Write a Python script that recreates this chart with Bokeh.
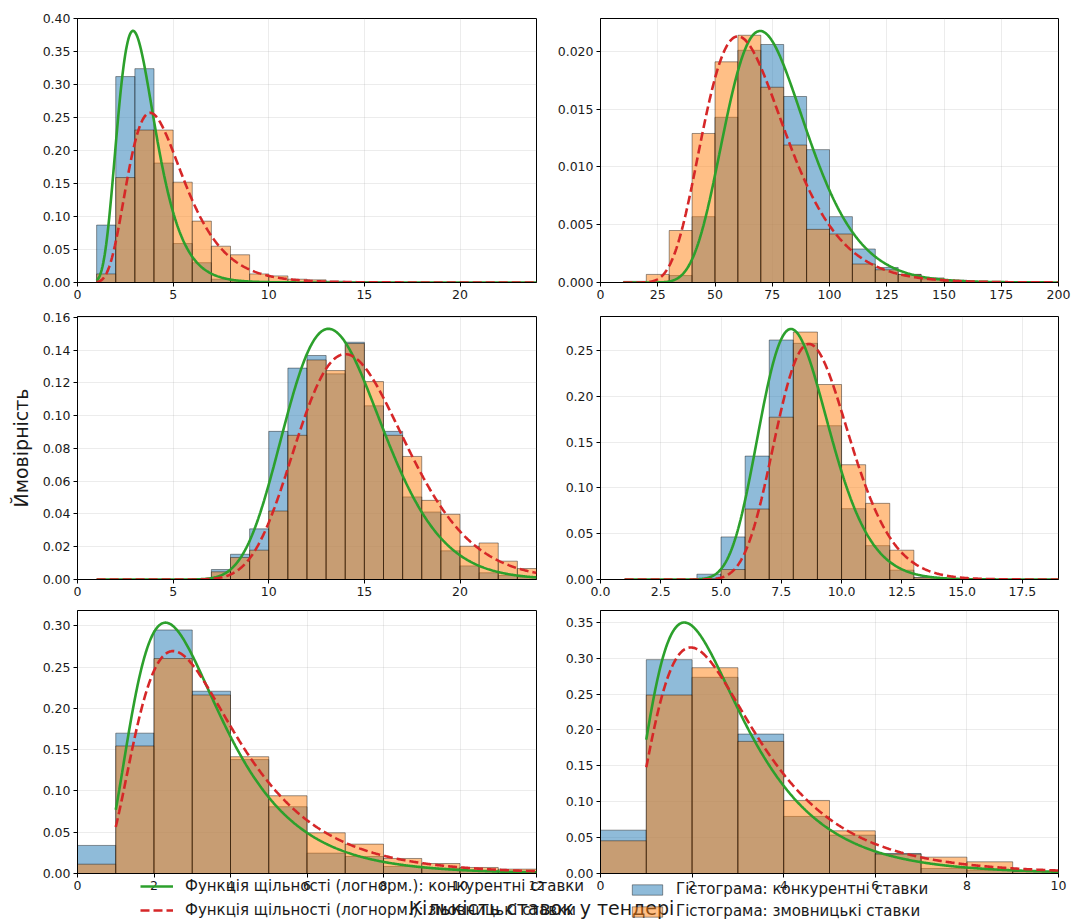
import numpy as np
from bokeh.plotting import figure
from bokeh.models import (Range1d, FixedTicker, PrintfTickFormatter, Legend,
                          LegendItem, Label, ColumnDataSource)
from bokeh.layouts import column, row
from bokeh.embed import file_html
from bokeh.resources import INLINE

# ---------------- data ----------------
LABEL_PDF_COMP = "Функція щільності (логнорм.): конкурентні ставки"
LABEL_PDF_COLL = "Функція щільності (логнорм.): змовницькі ставки"
LABEL_HIST_COMP = "Гістограма: конкурентні ставки"
LABEL_HIST_COLL = "Гістограма: змовницькі ставки"
X_LABEL = "Кількість ставок у тендері"
Y_LABEL = "Ймовірність"

# panel 1 (top-left)
P1_BIN_LEFT = [1, 2, 3, 4, 5, 6, 7, 8, 9, 10, 11, 12, 13, 14, 15]
P1_BIN_WIDTH = 1
P1_COMP = [0.087, 0.312, 0.324, 0.181, 0.059, 0.030, 0.005, 0.002, 0, 0, 0, 0, 0, 0, 0]
P1_COLL = [0.013, 0.159, 0.231, 0.231, 0.152, 0.093, 0.055, 0.042, 0.013, 0.010, 0.005, 0.004, 0.002, 0.001, 0.001]
P1_FIT_COMP = (0.34, 0.0, 3.26)     # shape, loc, scale
P1_FIT_COLL = (0.38, 0.0, 4.39)
P1_CURVE_SPAN = (1, 24)
P1_XTICKS = [0, 5, 10, 15, 20]
P1_YTICKS = [0, 0.05, 0.10, 0.15, 0.20, 0.25, 0.30, 0.35, 0.40]

# panel 2 (top-right)
P2_BIN_LEFT = [10, 20, 30, 40, 50, 60, 70, 80, 90, 100, 110, 120, 130, 140, 150]
P2_BIN_WIDTH = 10
P2_COMP = [0, 0, 0.0006, 0.0057, 0.0143, 0.0201, 0.0206, 0.0161, 0.0115, 0.0057, 0.0029, 0.0013, 0.0007, 0.0003, 0.0001]
P2_COLL = [0.0001, 0.0007, 0.0045, 0.0129, 0.0191, 0.0214, 0.0169, 0.0119, 0.0046, 0.0042, 0.0016, 0.0011, 0.0007, 0.0004, 0.0002]
P2_FIT_COMP = (0.2545, 0.0, 74.37)
P2_FIT_COLL = (0.2985, 0.0, 65.59)
P2_CURVE_SPAN = (10, 200)
P2_XTICKS = [0, 25, 50, 75, 100, 125, 150, 175, 200]
P2_YTICKS = [0, 0.005, 0.010, 0.015, 0.020]

# panel 3 (middle-left)
P3_BIN_LEFT = [7, 8, 9, 10, 11, 12, 13, 14, 15, 16, 17, 18, 19, 20, 21, 22, 23]
P3_BIN_WIDTH = 1
P3_COMP = [0.0061, 0.0154, 0.0309, 0.0904, 0.129, 0.1367, 0.1255, 0.1448, 0.106, 0.0904, 0.0504, 0.0412, 0.0175, 0.0083, 0.0041, 0.0024, 0.0016]
P3_COLL = [0.0047, 0.0134, 0.0179, 0.0418, 0.088, 0.134, 0.1275, 0.1440, 0.1208, 0.088, 0.0751, 0.0483, 0.0398, 0.0203, 0.0223, 0.0112, 0.0067]
P3_FIT_COMP = (0.195, 0.0, 13.63)
P3_FIT_COLL = (0.203, 0.0, 14.59)
P3_CURVE_SPAN = (1, 24)
P3_XTICKS = [0, 5, 10, 15, 20]
P3_YTICKS = [0, 0.02, 0.04, 0.06, 0.08, 0.10, 0.12, 0.14, 0.16]

# panel 4 (middle-right)
P4_BIN_LEFT = [4, 5, 6, 7, 8, 9, 10, 11, 12, 13, 14]
P4_BIN_WIDTH = 1
P4_COMP = [0.0058, 0.0465, 0.1348, 0.2616, 0.258, 0.168, 0.0774, 0.037, 0.0102, 0.002, 0.0005]
P4_COLL = [0.001, 0.0109, 0.077, 0.1773, 0.2703, 0.213, 0.1254, 0.0832, 0.032, 0.002, 0.001]
P4_FIT_COMP = (0.1815, 0.0, 8.165)
P4_FIT_COLL = (0.1765, 0.0, 8.924)
P4_CURVE_SPAN = (1, 19)
P4_XTICKS = [0, 2.5, 5, 7.5, 10, 12.5, 15, 17.5]
P4_YTICKS = [0, 0.05, 0.10, 0.15, 0.20, 0.25]

# panel 5 (bottom-left)
P5_BIN_LEFT = [0, 1, 2, 3, 4, 5, 6, 7, 8, 9, 10, 11]
P5_BIN_WIDTH = 1
P5_COMP = [0.034, 0.170, 0.295, 0.2208, 0.138, 0.0809, 0.0247, 0.0206, 0.0085, 0.0065, 0.0032, 0.0024]
P5_COLL = [0.0113, 0.1545, 0.2604, 0.2163, 0.1415, 0.0942, 0.0493, 0.0356, 0.0182, 0.0121, 0.0073, 0.0053]
P5_FIT_COMP = (0.503, 0.0, 2.962)
P5_FIT_COLL = (0.518, 0.0, 3.269)
P5_CURVE_SPAN = (1, 12)
P5_XTICKS = [0, 2, 4, 6, 8, 10, 12]
P5_YTICKS = [0, 0.05, 0.10, 0.15, 0.20, 0.25, 0.30]

# panel 6 (bottom-right)
P6_BIN_LEFT = [0, 1, 2, 3, 4, 5, 6, 7, 8, 9]
P6_BIN_WIDTH = 1
P6_COMP = [0.0604, 0.298, 0.2734, 0.1943, 0.0795, 0.0535, 0.0279, 0.007, 0.0046, 0.0028]
P6_COLL = [0.0456, 0.2487, 0.2868, 0.1841, 0.1018, 0.0595, 0.027, 0.0228, 0.0163, 0.0028]
P6_FIT_COMP = (0.539, 0.0, 2.447)
P6_FIT_COLL = (0.552, 0.0, 2.672)
P6_CURVE_SPAN = (1, 10)
P6_XTICKS = [0, 2, 4, 6, 8, 10]
P6_YTICKS = [0, 0.05, 0.10, 0.15, 0.20, 0.25, 0.30, 0.35]

# ---------------- styling / layout ----------------
FONT = "DejaVu Sans"
BLUE = "#1f77b4"
ORANGE = "#ff7f0e"
GREEN = "#2ca02c"
RED = "#d62728"
TICK_FS = "12.5px"


def lognorm_pdf(x, shape, loc, scale):
    z = x - loc
    return np.exp(-(np.log(z / scale)) ** 2 / (2 * shape ** 2)) / (z * shape * np.sqrt(2 * np.pi))


def panel(bin_left, bw, comp, coll, fit_c, fit_k, span, xticks, yticks,
          xmax, ymax, xfmt, yfmt, width, height, mbl, mbr, mbt, mbb, ylabel=None):
    p = figure(width=width, height=height, x_range=Range1d(0, xmax), y_range=Range1d(0, ymax),
               output_backend="svg", toolbar_location=None,
               min_border_left=mbl, min_border_right=mbr, min_border_top=mbt, min_border_bottom=mbb)
    p.background_fill_color = "white"
    p.border_fill_color = "white"
    p.outline_line_color = "black"
    p.outline_line_width = 1
    p.grid.grid_line_color = "#b0b0b0"
    p.grid.grid_line_alpha = 0.3
    p.grid.grid_line_width = 0.8
    p.xaxis.ticker = FixedTicker(ticks=xticks)
    p.yaxis.ticker = FixedTicker(ticks=yticks)
    p.xaxis.formatter = PrintfTickFormatter(format=xfmt)
    p.yaxis.formatter = PrintfTickFormatter(format=yfmt)
    for ax in (p.xaxis, p.yaxis):
        ax.major_tick_out = 4
        ax.major_tick_in = 0
        ax.minor_tick_out = 0
        ax.minor_tick_in = 0
        ax.major_label_text_font = FONT
        ax.major_label_text_font_size = TICK_FS
        ax.major_label_text_color = "#1a1a1a"
        ax.axis_line_color = "black"
        ax.major_tick_line_color = "black"
        ax.major_label_standoff = 3
    if ylabel:
        p.yaxis.axis_label = ylabel
        p.yaxis.axis_label_text_font = FONT
        p.yaxis.axis_label_text_font_size = "19px"
        p.yaxis.axis_label_text_font_style = "normal"
        p.yaxis.axis_label_text_color = "#1a1a1a"
        p.yaxis.axis_label_standoff = 8

    for vals, col in ((comp, BLUE), (coll, ORANGE)):
        left = [l for l, v in zip(bin_left, vals) if v > 0]
        top = [v for v in vals if v > 0]
        src = ColumnDataSource(dict(left=left, right=[l + bw for l in left], top=top))
        p.quad(left="left", right="right", bottom=0, top="top", source=src,
               fill_color=col, fill_alpha=0.5, line_color="black", line_alpha=0.5, line_width=0.8)

    xs = np.linspace(span[0], span[1], 600)
    p.line(xs, lognorm_pdf(xs, *fit_c), line_color=GREEN, line_width=2.6)
    p.line(xs, lognorm_pdf(xs, *fit_k), line_color=RED, line_width=2.6, line_dash="9 4")
    return p


WL, WR = 550, 523
H1, H2, H3 = 310, 295, 316

p1 = panel(P1_BIN_LEFT, P1_BIN_WIDTH, P1_COMP, P1_COLL, P1_FIT_COMP, P1_FIT_COLL, P1_CURVE_SPAN,
           P1_XTICKS, P1_YTICKS, 24, 0.400, "%d", "%.2f", WL, H1, 77, 14, 18, 28)
p2 = panel(P2_BIN_LEFT, P2_BIN_WIDTH, P2_COMP, P2_COLL, P2_FIT_COMP, P2_FIT_COLL, P2_CURVE_SPAN,
           P2_XTICKS, P2_YTICKS, 200, 0.02285, "%d", "%.3f", WR, H1, 50, 15, 18, 28)
p3 = panel(P3_BIN_LEFT, P3_BIN_WIDTH, P3_COMP, P3_COLL, P3_FIT_COMP, P3_FIT_COLL, P3_CURVE_SPAN,
           P3_XTICKS, P3_YTICKS, 24, 0.1605, "%d", "%.2f", WL, H2, 77, 14, 6, 26, ylabel=Y_LABEL)
p4 = panel(P4_BIN_LEFT, P4_BIN_WIDTH, P4_COMP, P4_COLL, P4_FIT_COMP, P4_FIT_COLL, P4_CURVE_SPAN,
           P4_XTICKS, P4_YTICKS, 19, 0.2873, "%.1f", "%.2f", WR, H2, 50, 15, 6, 26)
p5 = panel(P5_BIN_LEFT, P5_BIN_WIDTH, P5_COMP, P5_COLL, P5_FIT_COMP, P5_FIT_COLL, P5_CURVE_SPAN,
           P5_XTICKS, P5_YTICKS, 12, 0.3186, "%d", "%.2f", WL, H3, 77, 14, 5, 48)
p6 = panel(P6_BIN_LEFT, P6_BIN_WIDTH, P6_COMP, P6_COLL, P6_FIT_COMP, P6_FIT_COLL, P6_CURVE_SPAN,
           P6_XTICKS, P6_YTICKS, 10, 0.3665, "%d", "%.2f", WR, H3, 50, 15, 5, 48)

# legend / x-label strip overlaid on the bottom of the grid
LH = 48
lf = figure(width=WL + WR, height=LH, x_range=Range1d(0, WL + WR), y_range=Range1d(0, LH),
            output_backend="svg", toolbar_location=None, min_border=0, title=None,
            x_axis_location=None, y_axis_location=None, margin=(-LH, 0, 0, 0))
lf.grid.visible = False
lf.outline_line_color = None
lf.background_fill_alpha = 0
lf.border_fill_alpha = 0

# legend-only renderers (one NaN row each, so nothing is drawn in the strip itself)
nan_src = ColumnDataSource(dict(x=[np.nan], y=[np.nan], l=[np.nan], r=[np.nan], t=[np.nan], b=[np.nan]))
r_g = lf.line("x", "y", source=nan_src, line_color=GREEN, line_width=2.6)
r_r = lf.line("x", "y", source=nan_src, line_color=RED, line_width=2.6, line_dash="9 4")
r_b = lf.quad(left="l", right="r", top="t", bottom="b", source=nan_src,
              fill_color=BLUE, fill_alpha=0.5, line_color="black", line_alpha=0.5, line_width=0.8)
r_o = lf.quad(left="l", right="r", top="t", bottom="b", source=nan_src,
              fill_color=ORANGE, fill_alpha=0.5, line_color="black", line_alpha=0.5, line_width=0.8)

common = dict(padding=0, background_fill_alpha=0, border_line_alpha=0,
              label_text_font=FONT, label_text_font_size="15px", label_text_color="#1a1a1a")
leg1 = Legend(items=[LegendItem(label=LABEL_PDF_COMP, renderers=[r_g], index=0),
                     LegendItem(label=LABEL_PDF_COLL, renderers=[r_r], index=0)],
              location=(140, 1), glyph_width=33, glyph_height=20, spacing=4, label_standoff=12, **common)
leg2 = Legend(items=[LegendItem(label=LABEL_HIST_COMP, renderers=[r_b], index=0),
                     LegendItem(label=LABEL_HIST_COLL, renderers=[r_o], index=0)],
              location=(628, 1), glyph_width=38, glyph_height=13, spacing=4, label_standoff=10, **common)
lf.add_layout(leg1)
lf.add_layout(leg2)
lf.add_layout(Label(x=541, y=3, x_units="screen", y_units="screen", text=X_LABEL,
                    text_align="center", text_baseline="bottom",
                    text_font=FONT, text_font_size="19px", text_color="#1a1a1a"))

layout = column(row(p1, p2), row(p3, p4), row(p5, p6), lf)

with open("out.html", "w") as f:
    f.write(file_html(layout, INLINE))
